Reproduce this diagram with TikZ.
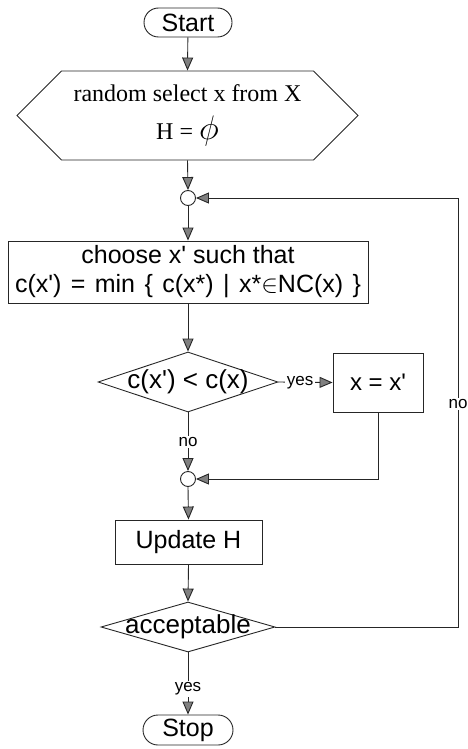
\RequirePackage{fix-cm}
\documentclass[tikz,border=0pt]{standalone}
\usepackage{fontspec}
\setsansfont{Liberation Sans}[Ligatures=TeXOff]
\newfontfamily\serifA{Liberation Serif}
\usetikzlibrary{arrows.meta,shapes.geometric,shapes.misc,shapes.symbols}
\tikzset{
  base/.style={draw=black!85, line width=0.9pt, font=\sffamily\fontsize{24}{29}\selectfont},
  term/.style={base, rounded rectangle, minimum width=88pt, minimum height=29pt, inner sep=0pt},
  procbox/.style={base, rectangle, inner sep=0pt, align=center},
  dec/.style={base, diamond, inner sep=0pt, font=\sffamily\fontsize{26}{29}\selectfont},
  junc/.style={draw=black!85, line width=0.9pt, circle, minimum size=15pt, inner sep=0pt, fill=white},
  lbl/.style={font=\sffamily\fontsize{17}{17}\selectfont, fill=white, inner sep=1.5pt},
  arr/.style={draw=black!85, line width=0.9pt, -{Triangle[length=13pt,width=11pt,fill=black!50]}}
}
\begin{document}
\begin{tikzpicture}[x=1pt,y=-1pt]
\useasboundingbox (0,0) rectangle (468,749);
\node[term, font=\sffamily\fontsize{25}{29}\selectfont] (start) at (188,22.5) {Start};
\node[base, signal, signal to=west and east, signal pointer angle=90,
      minimum width=341pt, minimum height=89pt, inner sep=0pt, align=center,
      font=\serifA\fontsize{24}{38}\selectfont] (init) at (187.5,115.5)
      {random select x from X\\H = {\fontsize{34}{34}\selectfont$\phi$}};
\node[junc] (c1) at (188,198) {};
\node[procbox, minimum width=360pt, minimum height=62pt, font=\sffamily\fontsize{25}{29}\selectfont] (choose) at (188,272)
      {choose x' such that\\\makebox[346pt][s]{c(x') = min \{ c(x*) | x*$\in$NC(x) \}}};
\node[dec, minimum width=180pt, minimum height=60pt] (d1) at (188,382) {\makebox[0pt]{c(x') < c(x)}};
\node[procbox, minimum width=90pt, minimum height=59pt] (xb) at (378,382.5) {x = x'};
\node[junc] (c2) at (188,479) {};
\node[procbox, minimum width=147pt, minimum height=44pt, font=\sffamily\fontsize{25}{29}\selectfont] (upd) at (188.5,542) {Update H};
\node[dec, minimum width=174pt, minimum height=50pt] (acc) at (188,627) {\makebox[0pt]{acceptable}};
\node[term, minimum width=90pt, minimum height=30pt, font=\sffamily\fontsize{25}{29}\selectfont] (stop) at (188,730) {Stop};
\coordinate (loopx) at (458,0);

\draw[arr] (start) -- (init.north);
\draw[arr] (init.south) -- (c1.north);
\draw[arr] (c1.south) -- (choose.north);
\draw[arr] (choose.south) -- (d1.north);
\draw[arr] (d1.east) -- node[lbl, pos=0.4] {yes} (xb.west);
\draw[arr] (d1.south) -- node[lbl, pos=0.5] {no} (c2.north);
\draw[arr] (xb.south) -- (xb.south |- c2) -- (c2.east);
\draw[arr] (c2.south) -- (upd.north);
\draw[arr] (upd.south) -- (acc.north);
\draw[arr] (acc.south) -- node[lbl, pos=0.59] {yes} (stop.north);
\draw[arr] (acc.east) -- (acc.east -| loopx) -- node[lbl, pos=0.52] {no} (c1.east -| loopx) -- (c1.east);
\end{tikzpicture}
\end{document}
